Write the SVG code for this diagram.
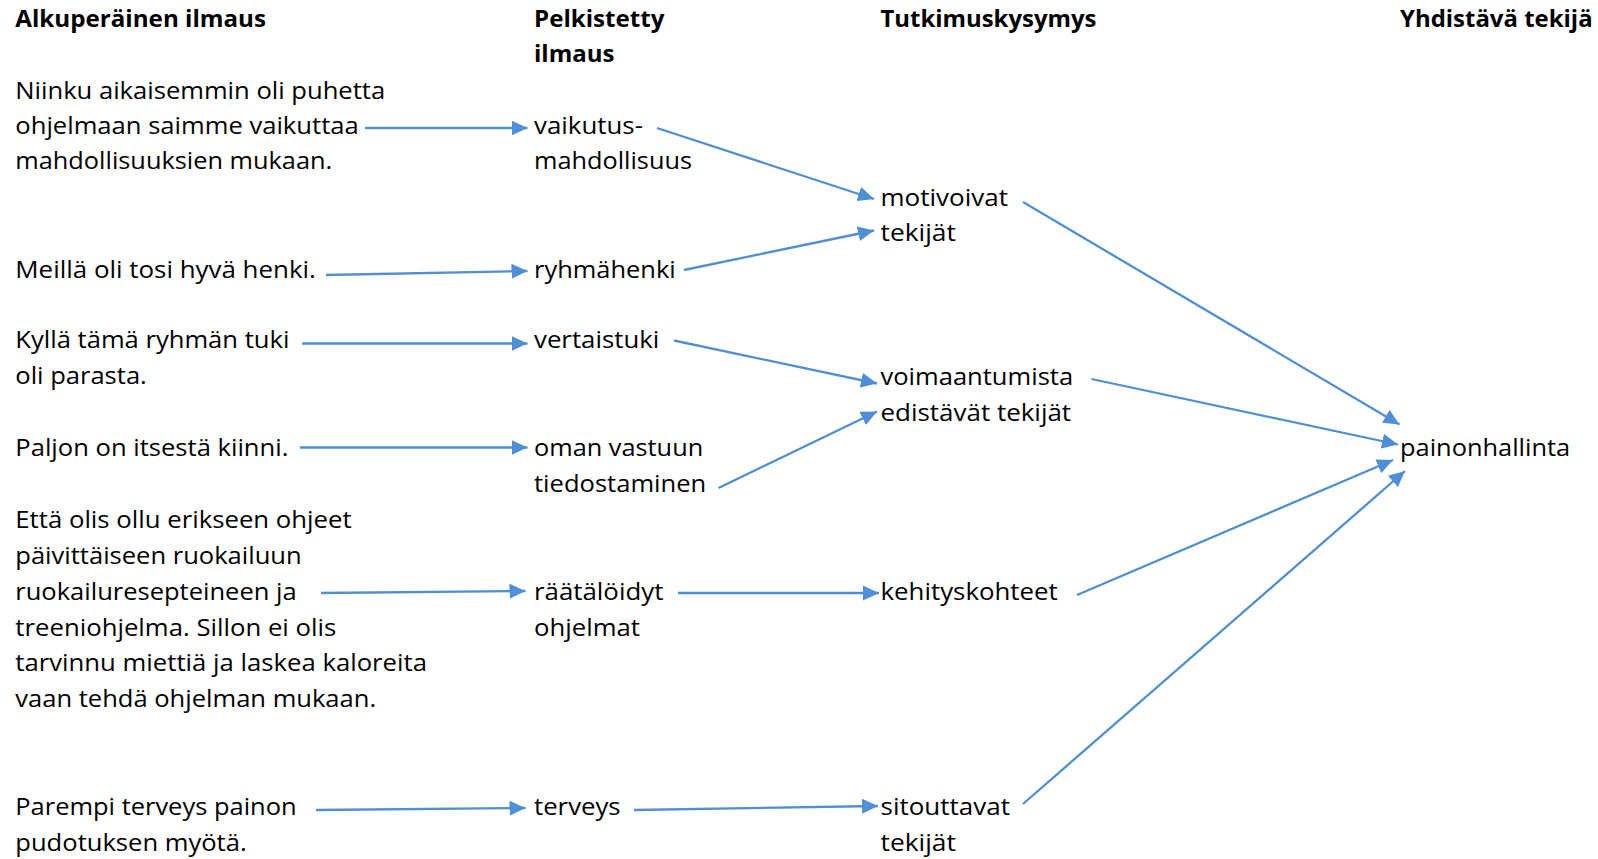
<svg xmlns="http://www.w3.org/2000/svg" width="1598" height="859" viewBox="0 0 1598 859">
<style>
text{font-family:"Open Sans","Liberation Sans",sans-serif;font-size:23.5px;fill:#000}
.h{font-weight:bold}
.c{stroke:#4f8fd6;stroke-width:2.3;fill:none;marker-end:url(#a)}
</style>
<defs>
<marker id="a" markerUnits="userSpaceOnUse" markerWidth="17" markerHeight="15" refX="16" refY="7.5" orient="auto">
<path d="M0,0 L16,7.5 L0,15 z" fill="#4f8fd6"/>
</marker>
</defs>
<rect width="1598" height="859" fill="#fff"/>
<g id="headers">
<text class="h" x="15.3" y="26.5" textLength="250.7" lengthAdjust="spacingAndGlyphs">Alkuperäinen ilmaus</text>
<text class="h" x="534" y="26.5" textLength="130.4" lengthAdjust="spacingAndGlyphs">Pelkistetty</text>
<text class="h" x="534" y="62" textLength="80.5" lengthAdjust="spacingAndGlyphs">ilmaus</text>
<text class="h" x="880.5" y="26.5" textLength="216" lengthAdjust="spacingAndGlyphs">Tutkimuskysymys</text>
<text class="h" x="1400" y="26.5" textLength="192.6" lengthAdjust="spacingAndGlyphs">Yhdistävä tekijä</text>
</g>
<g id="o1"><text x="15.3" y="98.7" textLength="369.9" lengthAdjust="spacingAndGlyphs">Niinku aikaisemmin oli puhetta</text><text x="15.3" y="134.4" textLength="343.4" lengthAdjust="spacingAndGlyphs">ohjelmaan saimme vaikuttaa</text><text x="15.3" y="169" textLength="316.9" lengthAdjust="spacingAndGlyphs">mahdollisuuksien mukaan.</text></g>
<g id="o2"><text x="15.3" y="278" textLength="300.6" lengthAdjust="spacingAndGlyphs">Meillä oli tosi hyvä henki.</text></g>
<g id="o3"><text x="15.3" y="348.4" textLength="274.1" lengthAdjust="spacingAndGlyphs">Kyllä tämä ryhmän tuki</text><text x="15.3" y="384" textLength="131.5" lengthAdjust="spacingAndGlyphs">oli parasta.</text></g>
<g id="o4"><text x="15.3" y="456.4" textLength="273.1" lengthAdjust="spacingAndGlyphs">Paljon on itsestä kiinni.</text></g>
<g id="o5"><text x="15.3" y="527.7" textLength="336.3" lengthAdjust="spacingAndGlyphs">Että olis ollu erikseen ohjeet</text><text x="15.3" y="564.4" textLength="286.4" lengthAdjust="spacingAndGlyphs">päivittäiseen ruokailuun</text><text x="15.3" y="600" textLength="281.3" lengthAdjust="spacingAndGlyphs">ruokailuresepteineen ja</text><text x="15.3" y="635.8" textLength="321" lengthAdjust="spacingAndGlyphs">treeniohjelma. Sillon ei olis</text><text x="15.3" y="671.4" textLength="411.7" lengthAdjust="spacingAndGlyphs">tarvinnu miettiä ja laskea kaloreita</text><text x="15.3" y="707" textLength="360.8" lengthAdjust="spacingAndGlyphs">vaan tehdä ohjelman mukaan.</text></g>
<g id="o6"><text x="15.3" y="815" textLength="281.3" lengthAdjust="spacingAndGlyphs">Parempi terveys painon</text><text x="15.3" y="850.8" textLength="231.3" lengthAdjust="spacingAndGlyphs">pudotuksen myötä.</text></g>
<g id="p1"><text x="534" y="134.4" textLength="109" lengthAdjust="spacingAndGlyphs">vaikutus-</text><text x="534" y="169" textLength="158" lengthAdjust="spacingAndGlyphs">mahdollisuus</text></g>
<g id="p2"><text x="534" y="278" textLength="141.7" lengthAdjust="spacingAndGlyphs">ryhmähenki</text></g>
<g id="p3"><text x="534" y="348.4" textLength="125.3" lengthAdjust="spacingAndGlyphs">vertaistuki</text></g>
<g id="p4"><text x="534" y="456.4" textLength="169.2" lengthAdjust="spacingAndGlyphs">oman vastuun</text><text x="534" y="492" textLength="172.2" lengthAdjust="spacingAndGlyphs">tiedostaminen</text></g>
<g id="p5"><text x="534" y="600" textLength="129.4" lengthAdjust="spacingAndGlyphs">räätälöidyt</text><text x="534" y="635.8" textLength="106" lengthAdjust="spacingAndGlyphs">ohjelmat</text></g>
<g id="p6"><text x="534" y="815" textLength="86.6" lengthAdjust="spacingAndGlyphs">terveys</text></g>
<g id="t1"><text x="880.5" y="205.7" textLength="127.4" lengthAdjust="spacingAndGlyphs">motivoivat</text><text x="880.5" y="241.4" textLength="75.4" lengthAdjust="spacingAndGlyphs">tekijät</text></g>
<g id="t2"><text x="880.5" y="385" textLength="192.6" lengthAdjust="spacingAndGlyphs">voimaantumista</text><text x="880.5" y="420.7" textLength="190.6" lengthAdjust="spacingAndGlyphs">edistävät tekijät</text></g>
<g id="t3"><text x="880.5" y="600" textLength="177.3" lengthAdjust="spacingAndGlyphs">kehityskohteet</text></g>
<g id="t4"><text x="880.5" y="815" textLength="129.4" lengthAdjust="spacingAndGlyphs">sitouttavat</text><text x="880.5" y="850.8" textLength="75.4" lengthAdjust="spacingAndGlyphs">tekijät</text></g>
<g id="y1"><text x="1400" y="456.4" textLength="170.2" lengthAdjust="spacingAndGlyphs">painonhallinta</text></g>
<g id="connectors">
<line class="c" x1="365" y1="128" x2="527.5" y2="128"/>
<line class="c" x1="657" y1="128" x2="874" y2="199"/>
<line class="c" x1="326" y1="275" x2="527.5" y2="271"/>
<line class="c" x1="684" y1="270" x2="874" y2="230.5"/>
<line class="c" x1="302" y1="343.5" x2="527.5" y2="343.5"/>
<line class="c" x1="674" y1="340.5" x2="877" y2="383.5"/>
<line class="c" x1="300" y1="447.5" x2="527.5" y2="447.5"/>
<line class="c" x1="718.5" y1="488" x2="877" y2="411.5"/>
<line class="c" x1="321" y1="593" x2="525.5" y2="591"/>
<line class="c" x1="678" y1="593" x2="879" y2="593"/>
<line class="c" x1="316" y1="810" x2="525.5" y2="808"/>
<line class="c" x1="634" y1="810" x2="878" y2="806"/>
<line class="c" x1="1023" y1="202" x2="1399.5" y2="424.5"/>
<line class="c" x1="1091.5" y1="379" x2="1398" y2="444.5"/>
<line class="c" x1="1077" y1="595" x2="1393" y2="460"/>
<line class="c" x1="1023" y1="804" x2="1405" y2="471"/>
</g>
</svg>
